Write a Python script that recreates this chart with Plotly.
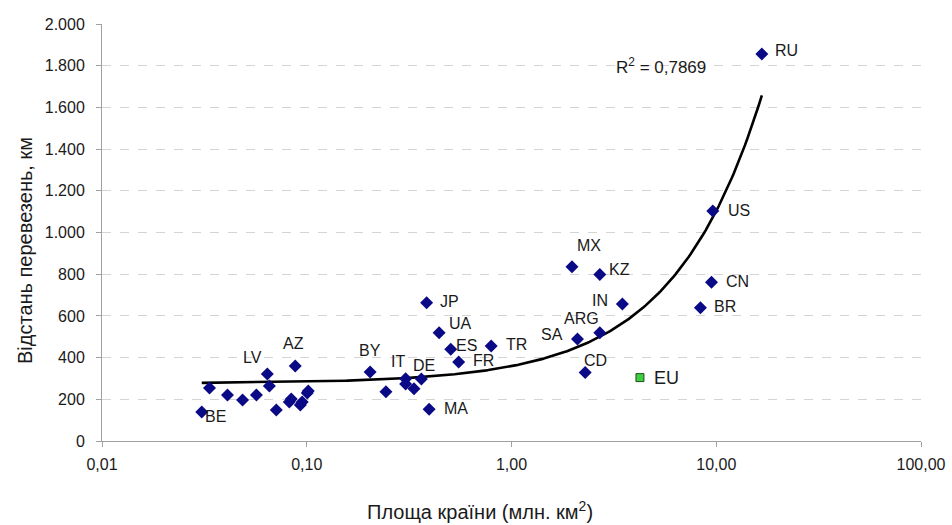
import numpy as np
import plotly.graph_objects as go

# ---- data ----
labels = ["BE", "", "", "", "", "LV", "", "", "", "", "AZ", "", "", "", "",
          "BY", "", "IT", "", "", "DE", "JP", "MA", "UA", "ES", "FR", "TR",
          "MX", "SA", "CD", "KZ", "ARG", "IN", "BR", "CN", "US", "RU"]
area = [0.0307, 0.0335, 0.041, 0.0486, 0.0568, 0.0642, 0.0657, 0.071, 0.0822, 0.084,
        0.0879, 0.093, 0.095, 0.1006, 0.1017,
        0.204, 0.2436, 0.304, 0.304, 0.334, 0.363, 0.385, 0.396, 0.443, 0.505, 0.552, 0.796,
        1.974, 2.10, 2.29, 2.70, 2.70, 3.48, 8.37, 9.48, 9.62, 16.7]
distance = [139, 254, 221, 197, 221, 321, 264, 149, 187, 201, 360, 173, 187, 230, 240,
            331, 236, 299, 273, 251, 297, 663, 152, 519, 440, 379, 456,
            836, 489, 329, 799, 519, 657, 639, 761, 1103, 1856]

eu_label = ["EU"]
eu_area = [4.24]
eu_distance = [304]

x_tickvals = [0.01, 0.1, 1, 10, 100]
x_ticktext = ["0,01", "0,10", "1,00", "10,00", "100,00"]
y_tickvals = [0, 200, 400, 600, 800, 1000, 1200, 1400, 1600, 1800, 2000]

r2_text = "R<sup>2</sup> = 0,7869"

# ---- label placement (pixel offsets from point) ----
label_offsets = {
    "BE": (14, -4), "LV": (-15, 17), "AZ": (-2, 22), "BY": (0, 21), "IT": (-8, 17),
    "DE": (3, 14), "JP": (23, 1), "UA": (21, 9), "ES": (16, 4), "FR": (25, 1),
    "TR": (25, 1), "MA": (27, 1), "MX": (17, 21), "KZ": (20, 5), "IN": (-22, 4),
    "ARG": (-18, 14), "SA": (-25, 5), "CD": (10, 12), "CN": (26, 1), "BR": (25, 1),
    "US": (26, 1), "RU": (25, 4), "EU": (27, 0),
}

# ---- linear trend (fitted on linear x, drawn on log axis) ----
slope, intercept = np.polyfit(np.array(area), np.array(distance), 1)
xt = np.logspace(np.log10(min(area)), np.log10(max(area)), 300)
yt = intercept + slope * xt

FONT = "Arial, Liberation Sans, sans-serif"
L, R, T, B = 102, 31, 24, 84
PW, PH = 952 - L - R, 525 - T - B

fig = go.Figure()
fig.add_trace(go.Scatter(x=xt, y=yt, mode="lines",
                         line=dict(color="black", width=2.6), showlegend=False,
                         hoverinfo="skip"))
fig.add_trace(go.Scatter(x=area, y=distance, mode="markers",
                         marker=dict(symbol="diamond", size=10, color="#0a0a86"),
                         showlegend=False))
fig.add_trace(go.Scatter(x=eu_area, y=eu_distance, mode="markers",
                         marker=dict(symbol="square", size=8, color="#3fce3f",
                                     line=dict(color="#1f4f1f", width=1)),
                         showlegend=False))

annotations = []
for lab, xv, yv in zip(labels + eu_label, area + eu_area, distance + eu_distance):
    if not lab:
        continue
    dx, dy = label_offsets[lab]
    annotations.append(dict(x=np.log10(xv), y=yv, xref="x", yref="y", text=lab,
                            showarrow=False, xanchor="center", yanchor="middle",
                            xshift=dx, yshift=dy,
                            font=dict(size=18 if lab == "EU" else 16, color="#1a1a1a",
                                      family=FONT)))

annotations.append(dict(x=(661 - L) / PW, y=(441 - 66) / PH, xref="paper", yref="paper",
                        text=r2_text, showarrow=False, xanchor="center", yanchor="middle",
                        font=dict(size=17, color="#1a1a1a", family=FONT)))
annotations.append(dict(x=(480 - L) / PW, y=(441 - 510) / PH, xref="paper", yref="paper",
                        text="Площа країни (млн. км<sup>2</sup>)", showarrow=False,
                        xanchor="center", yanchor="middle",
                        font=dict(size=20, color="#1a1a1a", family=FONT)))
annotations.append(dict(x=(25 - L) / PW, y=(441 - 251) / PH, xref="paper", yref="paper",
                        text="Відстань перевезень, км", showarrow=False, textangle=-90,
                        xanchor="center", yanchor="middle",
                        font=dict(size=20, color="#1a1a1a", family=FONT)))

fig.update_layout(
    width=952, height=525,
    margin=dict(l=L, r=R, t=T, b=B),
    paper_bgcolor="white", plot_bgcolor="white",
    separators=",.",
    font=dict(family=FONT, size=16, color="#1a1a1a"),
    annotations=annotations,
    xaxis=dict(type="log", range=[-2, 2], tickvals=x_tickvals, ticktext=x_ticktext,
               showgrid=False, showline=True, linecolor="#a0a0a0", linewidth=1,
               ticks="outside", ticklen=5, tickcolor="#a0a0a0", zeroline=False,
               tickfont=dict(size=16), ticklabelstandoff=4, automargin=False),
    yaxis=dict(range=[0, 2000], tickvals=y_tickvals, tickformat=",d",
               showgrid=True, gridcolor="#d4d4d4", griddash="dash", gridwidth=1,
               showline=True, linecolor="#a0a0a0", linewidth=1,
               ticks="outside", ticklen=5, tickcolor="#a0a0a0", zeroline=False,
               tickfont=dict(size=16), ticklabelstandoff=8, automargin=False),
)

fig.write_html("out.html")
